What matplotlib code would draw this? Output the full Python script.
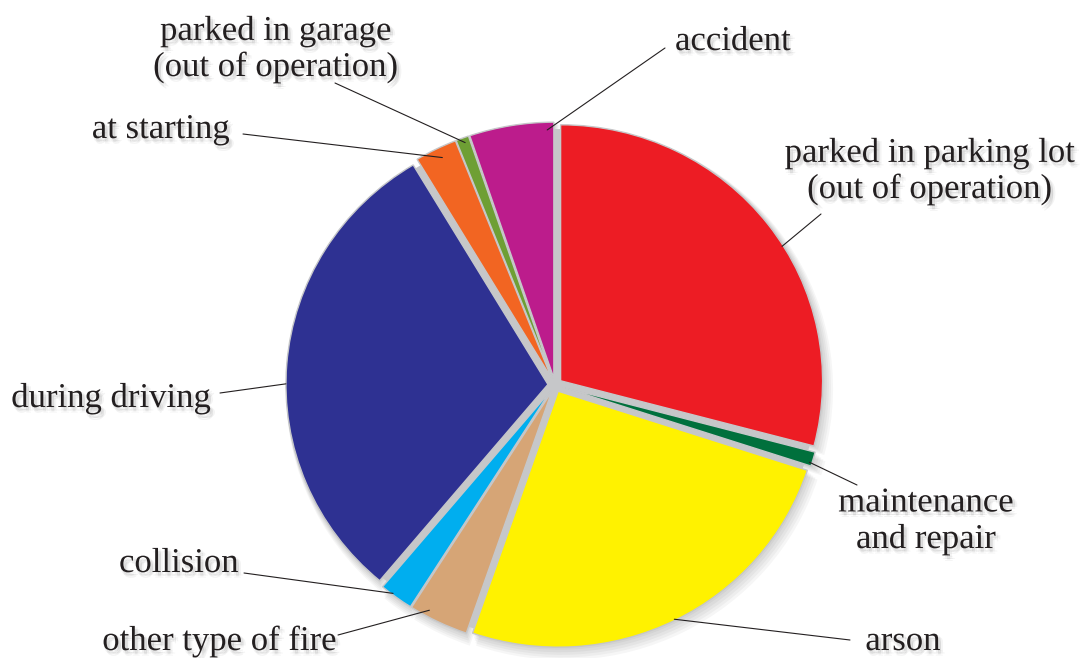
import matplotlib
matplotlib.use("Agg")
import matplotlib.pyplot as plt
import matplotlib.patheffects as pe
from matplotlib.patches import Ellipse
import numpy as np

# causes of vehicle fires, share in percent (clockwise from 12 o'clock)
categories = [
    "parked in parking lot\n(out of operation)",
    "maintenance\nand repair",
    "arson",
    "other type of fire",
    "collision",
    "during driving",
    "at starting",
    "parked in garage\n(out of operation)",
    "accident",
]
shares = [29.1, 0.9, 25.3, 3.7, 2.1, 30.3, 2.6, 0.8, 5.2]

colors = ["#ed1c24", "#00703c", "#fff200", "#d6a576", "#00aeef",
          "#2e3192", "#f26522", "#6e9f34", "#bc1c8c"]

W, H = 1080, 658
CX, CY = 555, 385        # pie centre in pixels (from top-left)
UX, UY = 262, 256        # pixels per data unit
LIM = 1.06
EXPLODE = 0.027
GAP = "#c6c7c9"
TEXT = "#231f20"

# label placement: text centre x / last baseline y (pixels from top-left),
# leader start (pixels), leader end as (fraction of wedge angle, radius)
labels_pos = [
    (930, 198, (821, 214), (0.445, 0.995)),
    (926, 548, (857, 485), (0.22, 0.99)),
    (903, 650, (850, 640), (0.50, 0.995)),
    (220, 650, (338, 635), (0.28, 0.975)),
    (179, 572, (244, 573), (0.36, 0.995)),
    (111, 407, (220, 393), (0.54, 1.0)),
    (161, 138, (243, 134), (0.45, 0.96)),
    (276, 76, (335, 83), (0.41, 0.98)),
    (733, 50, (665, 48), (0.08, 0.97)),
]

fig = plt.figure(figsize=(W / 100, H / 100), dpi=100)
ax = fig.add_axes([(CX - LIM * UX) / W, (H - CY - LIM * UY) / H,
                   2 * LIM * UX / W, 2 * LIM * UY / H])

explode = [EXPLODE] * len(shares)

# soft drop shadow underneath the pie
for k in range(1, 6):
    ax.pie(shares, explode=explode, startangle=90, counterclock=False,
           colors=["#000000"] * len(shares), radius=1.0 + 0.004 * k,
           center=(0.004 * k, -0.006 * k),
           wedgeprops=dict(alpha=0.035, linewidth=0))

# grey showing through the gaps between the wedges
ax.add_patch(Ellipse((0, 0), 2.0, 2.0, color=GAP, lw=0))

wedges, _ = ax.pie(shares, explode=explode, startangle=90, counterclock=False,
                   colors=colors,
                   wedgeprops=dict(edgecolor=GAP, linewidth=1.0))

ax.set_aspect("auto")
ax.set_xlim(-LIM, LIM)
ax.set_ylim(-LIM, LIM)
ax.axis("off")

shadow = [pe.SimplePatchShadow(offset=(2 + dx, -2.5 + dy), shadow_rgbFace="#000000", alpha=0.045)
          for dx, dy in [(0, 0), (-1.5, 0), (1.5, 0), (0, -1.5), (0, 1.5)]]
text_fx = shadow + [pe.Normal()]

for w, name, (tx, ty, start, (frac, r)) in zip(wedges, categories, labels_pos):
    ang = np.deg2rad(w.theta1 + frac * (w.theta2 - w.theta1))
    end = (w.center[0] + r * np.cos(ang), w.center[1] + r * np.sin(ang))
    ax.annotate("", xy=end, xycoords="data",
                xytext=(start[0], H - start[1]), textcoords="figure pixels",
                arrowprops=dict(arrowstyle="-", color=TEXT, lw=0.8,
                                shrinkA=0, shrinkB=0),
                annotation_clip=False)
    fig.text(tx / W, 1 - ty / H, name, ha="center", va="baseline",
             multialignment="center", linespacing=1.12,
             fontsize=25, family="Liberation Serif", color=TEXT,
             path_effects=text_fx)

fig.savefig("out.png", dpi=100)
